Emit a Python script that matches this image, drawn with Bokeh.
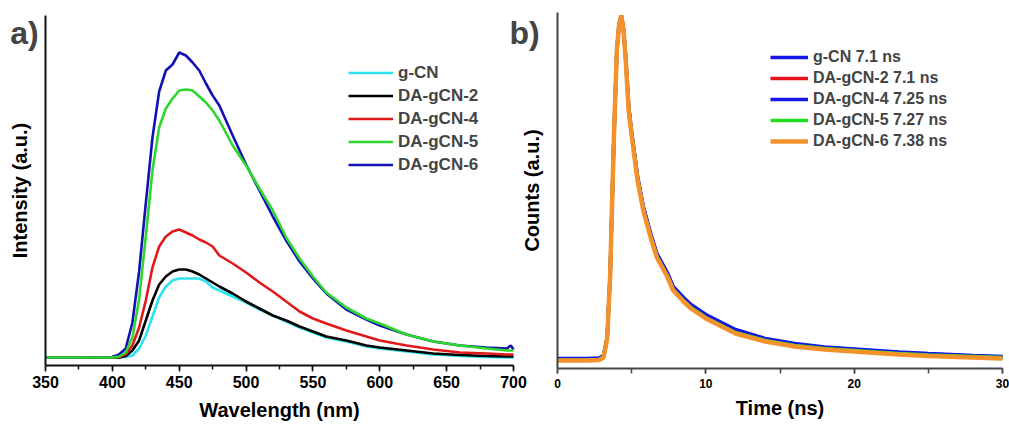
from bokeh.plotting import figure
from bokeh.models import (Legend, LegendItem, Label, LinearAxis, Range1d,
                          SingleIntervalTicker, FixedTicker)
from bokeh.embed import file_html
from bokeh.resources import INLINE

FONT = "Liberation Sans"

# ---------------- Panel a: PL spectra ----------------
wavelength = [350, 380, 400, 405, 410, 415, 420, 425, 430, 435, 440, 445, 450, 455, 460,
              465, 470, 475, 480, 490, 500, 510, 520, 530, 540, 550, 560, 575, 590, 600,
              620, 640, 660, 680, 695, 698, 700]
pl_gcn = [0, 0, 0, 0, 0.5, 2, 9, 22, 41, 60, 71, 77, 79, 79, 79, 79, 76, 70, 67, 61, 55, 48,
          42, 36, 30, 25, 20, 16, 11, 9, 6, 3, 1.5, 0.5, 0, 0, 0]
pl_da2 = [0, 0, 0, 0, 1.5, 7, 17, 37, 57, 73, 81, 86, 88, 88, 86, 83, 79, 75, 71, 64, 56, 49,
          42, 37, 31, 26, 21, 17, 12, 10, 7, 4, 2.5, 1.5, 1, 1, 1]
pl_da4 = [0, 0, 0, 0.5, 3, 12, 30, 57, 90, 111, 121, 126, 128, 125, 122, 118, 115, 111, 102,
          94, 85, 75, 66, 56, 46, 39, 34, 27, 21, 17, 12, 8, 5, 4, 3, 3, 3]
pl_da5 = [0, 0, 0, 1, 5, 20, 58, 121, 187, 230, 249, 259, 267, 268, 267, 261, 255, 247, 237,
          212, 192, 169, 147, 120, 99, 81, 65, 50, 39, 34, 23, 16, 12, 9, 7, 7, 7]
pl_da6 = [0, 0, 0.5, 3, 9, 35, 86, 154, 220, 266, 287, 293, 305, 302, 295, 287, 274, 262, 252,
          222, 193, 167, 141, 117, 96, 79, 64, 48, 38, 32, 23, 16, 12, 10, 9, 12, 8]
pl_names = ["g-CN", "DA-gCN-2", "DA-gCN-4", "DA-gCN-5", "DA-gCN-6"]
pl_colors = ["#2de3ef", "#000000", "#e01a1a", "#2ed62e", "#1212b4"]

# ---------------- Panel b: TRPL decays ----------------
time_ns = [0, 1, 2, 2.8, 3.1, 3.35, 3.55, 3.8, 4.0, 4.15, 4.3, 4.45, 4.6, 4.8, 5.0, 5.4, 5.8,
           6.3, 6.7, 7.4, 7.8, 8.5, 9.0, 10, 12, 14, 16, 18, 21, 23, 25, 28, 30]
tr_gcn = [2, 2, 2, 2.5, 5, 23, 86, 222, 310, 336, 345, 332, 303, 254, 228, 184, 153, 126, 107,
          88, 74, 63, 56, 46, 31, 22, 17, 13.5, 10.5, 8.5, 7, 5, 4]
tr_da2 = [0.5, 0.5, 0.5, 1, 3.5, 22, 85, 222, 310, 335, 345, 330, 301, 251, 226, 181, 150,
          123, 104, 85, 71, 60, 53, 43, 28, 20, 15, 12, 9, 7, 5.5, 4, 3]
tr_da4 = [1.5, 1.5, 1.5, 2, 4.5, 23, 86, 222, 310, 336, 345, 331, 302, 253, 227, 183, 152,
          125, 106, 87, 73, 62, 55, 45, 30, 21, 16, 13, 10, 8, 6.5, 4.5, 3.5]
tr_da5 = [0.5, 0.5, 0.5, 1, 3.5, 22, 85, 222, 310, 335, 345, 330, 301, 251, 226, 181, 150,
          123, 104, 85, 71, 60, 53, 43, 28, 20, 15, 12, 9, 7, 5.5, 4, 3]
tr_da6 = [0, 0, 0, 0.5, 3, 22, 85, 222, 310, 335, 345, 330, 300, 250, 225, 180, 149, 122, 103,
          84, 70, 59, 52, 42, 27, 19, 14, 11, 8, 6, 4.5, 3, 2]
tr_names = ["g-CN 7.1 ns", "DA-gCN-2 7.1 ns", "DA-gCN-4 7.25 ns", "DA-gCN-5 7.27 ns",
            "DA-gCN-6 7.38 ns"]
tr_colors = ["#1515e8", "#e3141c", "#1515e8", "#22dd22", "#f3922a"]

# ---------------- layout (pixels on the 1009x424 canvas) ----------------
W, H = 1009, 424
# panel a frame: x 45..513, y 15..365 ; panel b frame: x 557..1002, y 12..368
A_X0, A_X1, A_Y0, A_Y1 = 45, 513, 15, 365
B_X0, B_X1, B_Y0, B_Y1 = 557, 1002, 12, 368
a_xr, a_yr = (350, 700), (-8, 342)
b_xr, b_yr = (0, 30), (-8, 348)


def full_range(lo, hi, p_lo, p_hi, total, flip=False):
    scale = (hi - lo) / (p_hi - p_lo)
    if flip:  # screen y grows downward
        return lo - (total - p_hi) * scale, hi + p_lo * scale
    return lo - p_lo * scale, hi + (total - p_hi) * scale


ax_start, ax_end = full_range(*a_xr, A_X0, A_X1, W)
ay_start, ay_end = full_range(*a_yr, A_Y0, A_Y1, H, flip=True)
bx_start, bx_end = full_range(*b_xr, B_X0, B_X1, W)
by_start, by_end = full_range(*b_yr, B_Y0, B_Y1, H, flip=True)

p = figure(width=W, height=H, x_range=Range1d(ax_start, ax_end),
           y_range=Range1d(ay_start, ay_end), x_axis_type=None, y_axis_type=None,
           output_backend="svg", toolbar_location=None,
           min_border=0, min_border_left=0, min_border_right=0,
           min_border_top=0, min_border_bottom=0)
p.extra_x_ranges = {"b": Range1d(bx_start, bx_end)}
p.extra_y_ranges = {"b": Range1d(by_start, by_end)}
p.outline_line_color = None
p.xgrid.visible = False
p.ygrid.visible = False


def style(ax, color):
    ax.axis_line_color = color
    ax.axis_line_width = 2
    ax.major_tick_line_color = color
    ax.minor_tick_line_color = color
    ax.major_tick_line_width = 1.5
    ax.minor_tick_line_width = 1.5
    ax.major_tick_in = 0
    ax.minor_tick_in = 0
    ax.axis_label_text_font = FONT
    ax.axis_label_text_font_style = "bold"
    ax.axis_label_text_color = "#000000"
    ax.axis_label_text_font_size = "20px"
    ax.major_label_text_font = FONT
    ax.major_label_text_font_style = "bold"
    ax.major_label_text_color = "#000000"


# panel a axes
xa = LinearAxis(fixed_location=a_yr[0], bounds=a_xr, axis_label="Wavelength (nm)",
                ticker=SingleIntervalTicker(interval=50, num_minor_ticks=2))
style(xa, "#111111")
xa.major_tick_out = 6
xa.minor_tick_out = 4
xa.major_label_text_font_size = "16px"
xa.major_label_standoff = 4
xa.axis_label_standoff = 8
p.add_layout(xa, "below")

ya = LinearAxis(fixed_location=a_xr[0], bounds=a_yr, axis_label="Intensity (a.u.)",
                ticker=FixedTicker(ticks=[]))
style(ya, "#111111")
ya.major_label_text_font_size = "0px"
ya.axis_label_standoff = 15
p.add_layout(ya, "left")

# panel b axes
xb = LinearAxis(x_range_name="b", y_range_name="b", fixed_location=b_yr[0], bounds=b_xr,
                axis_label="Time (ns)",
                ticker=SingleIntervalTicker(interval=10, num_minor_ticks=2))
style(xb, "#444444")
xb.major_tick_out = 5
xb.minor_tick_out = 5
xb.major_label_text_font_size = "12px"
xb.major_label_standoff = 5
xb.axis_label_standoff = 6
p.add_layout(xb, "below")

yb = LinearAxis(x_range_name="b", y_range_name="b", fixed_location=b_xr[0], bounds=b_yr,
                axis_label="Counts (a.u.)", ticker=FixedTicker(ticks=[]))
style(yb, "#444444")
yb.major_label_text_font_size = "0px"
yb.axis_label_standoff = 15
p.add_layout(yb, "left")

# panel a lines
pl_series = [pl_gcn, pl_da2, pl_da4, pl_da5, pl_da6]
rend_a = {}
for idx in [0, 1, 2, 4, 3]:
    rend_a[idx] = p.line(wavelength, pl_series[idx], color=pl_colors[idx], line_width=2.6)

# panel b lines
tr_series = [tr_gcn, tr_da2, tr_da4, tr_da5, tr_da6]
rend_b = []
for i in range(5):
    rend_b.append(p.line(time_ns, tr_series[i], color=tr_colors[i],
                         line_width=4.5 if i == 4 else 3.5,
                         x_range_name="b", y_range_name="b"))

leg_a = Legend(items=[LegendItem(label=pl_names[i], renderers=[rend_a[i]]) for i in range(5)],
               location=(348, 248), glyph_width=45, glyph_height=23, label_height=23,
               spacing=0, padding=0, margin=0, label_standoff=5,
               label_text_font=FONT, label_text_font_style="bold",
               label_text_font_size="17px", border_line_color=None,
               background_fill_alpha=0)
p.add_layout(leg_a)

leg_b = Legend(items=[LegendItem(label=tr_names[i], renderers=[rend_b[i]]) for i in range(5)],
               location=(770, 273), glyph_width=38, glyph_height=20, label_height=20,
               spacing=1, padding=0, margin=0, label_standoff=5,
               label_text_font=FONT, label_text_font_style="bold",
               label_text_font_size="16px", border_line_color=None,
               background_fill_alpha=0)
p.add_layout(leg_b)


def px_to_a(px, py):
    sx = (a_xr[1] - a_xr[0]) / (A_X1 - A_X0)
    sy = (a_yr[1] - a_yr[0]) / (A_Y1 - A_Y0)
    return a_xr[0] + (px - A_X0) * sx, a_yr[0] + (A_Y1 - py) * sy


for txt, (cx, cy) in [("a)", (24, 32)), ("b)", (524, 32))]:
    lx, ly = px_to_a(cx, cy)
    p.add_layout(Label(x=lx, y=ly, text=txt, text_font=FONT, text_font_style="bold",
                       text_font_size="32px", text_align="center",
                       text_baseline="middle"))

open("out.html", "w").write(file_html(p, INLINE))
